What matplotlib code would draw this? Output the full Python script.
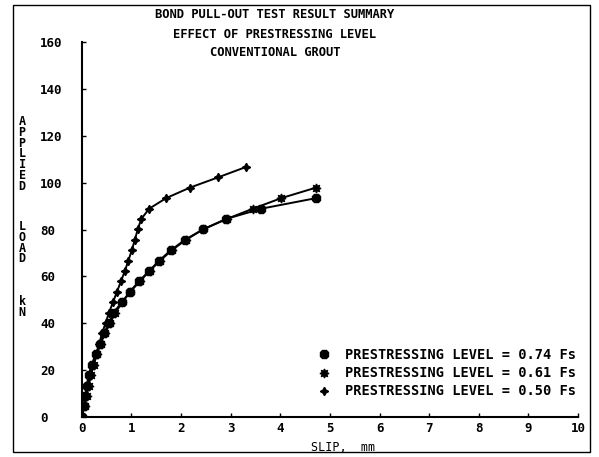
import numpy as np
import matplotlib
matplotlib.use('Agg')
import matplotlib.pyplot as plt
from matplotlib.patches import Rectangle

plt.rcParams['font.family'] = 'DejaVu Sans Mono'
plt.rcParams['font.weight'] = 'bold'

# load steps are 1 kip = 4.45 kN
load_074 = [0, 4.4, 8.9, 13.3, 17.8, 22.2, 26.7, 31.1, 35.6, 40.0, 44.5,
            48.9, 53.4, 57.8, 62.3, 66.7, 71.2, 75.6, 80.1, 84.5, 88.9, 93.4]
slip_074 = [0, 0.04, 0.07, 0.10, 0.14, 0.20, 0.28, 0.37, 0.45, 0.55, 0.64,
            0.81, 0.97, 1.15, 1.36, 1.56, 1.80, 2.08, 2.45, 2.91, 3.62, 4.72]

load_061 = [0, 4.4, 8.9, 13.3, 17.8, 22.2, 26.7, 31.1, 35.6, 40.0, 44.5,
            48.9, 53.4, 57.8, 62.3, 66.7, 71.2, 75.6, 80.1, 84.5, 88.9, 93.4, 97.9]
slip_061 = [0, 0.06, 0.10, 0.14, 0.19, 0.24, 0.31, 0.38, 0.47, 0.57, 0.68,
            0.82, 0.98, 1.17, 1.37, 1.58, 1.82, 2.10, 2.45, 2.92, 3.45, 4.02, 4.72]

load_050 = [0, 4.4, 8.9, 13.3, 17.8, 22.2, 26.7, 31.1, 35.6, 40.0, 44.5,
            48.9, 53.4, 57.8, 62.3, 66.7, 71.2, 75.6, 80.1, 84.5, 88.9, 93.4,
            97.9, 102.3, 106.8]
slip_050 = [0, 0.04, 0.08, 0.12, 0.17, 0.23, 0.29, 0.35, 0.41, 0.48, 0.55,
            0.63, 0.71, 0.79, 0.87, 0.94, 1.01, 1.07, 1.13, 1.20, 1.36, 1.70,
            2.18, 2.75, 3.32]

labels = ['PRESTRESSING LEVEL = 0.74 Fs',
          'PRESTRESSING LEVEL = 0.61 Fs',
          'PRESTRESSING LEVEL = 0.50 Fs']
xticks = [0, 1, 2, 3, 4, 5, 6, 7, 8, 9, 10]
yticks = [0, 20, 40, 60, 80, 100, 120, 140, 160]

fig = plt.figure(figsize=(5.99, 4.57), dpi=100)
ax = fig.add_axes([0.1364, 0.0882, 0.8286, 0.8192])

l3, = ax.plot(slip_050, load_050, color='black', lw=1.4, marker=(4, 1, 0), ms=6)
l2, = ax.plot(slip_061, load_061, color='black', lw=1.4, marker=(8, 1, 0), ms=6.5)
l1, = ax.plot(slip_074, load_074, color='black', lw=1.4, marker='8', ms=6)

ax.set_xlim(0, 10)
ax.set_ylim(0, 160)
ax.set_xticks(xticks)
ax.set_yticks(yticks)
ax.set_xticklabels([str(v) for v in xticks])
ax.set_yticklabels([str(v) for v in yticks])
ax.spines['top'].set_visible(False)
ax.spines['right'].set_visible(False)
ax.spines['left'].set_linewidth(1.5)
ax.spines['bottom'].set_linewidth(1.5)
ax.tick_params(axis='x', direction='in', length=3, width=1, labelsize=9, pad=4)
ax.tick_params(axis='y', direction='in', length=3, width=1, labelsize=9, pad=30)
for t in ax.get_yticklabels():
    t.set_horizontalalignment('left')
    t.set_verticalalignment('center_baseline')

ax.set_xlabel('SLIP,  mm', fontsize=8.5)
ax.xaxis.set_label_coords(0.527, -0.064)

leg = ax.legend([l1, l2, l3], labels, loc='upper left',
                bbox_to_anchor=(0.461, 0.201), frameon=False, fontsize=9.8,
                handlelength=1.0, handletextpad=1.0, labelspacing=0.3,
                borderpad=0)
for h in leg.get_lines():
    h.set_linestyle('none')

fig.text(0.459, 1 - 15 / 457, 'BOND PULL-OUT TEST RESULT SUMMARY', ha='center', va='center', fontsize=8.7)
fig.text(0.459, 1 - 35 / 457, 'EFFECT OF PRESTRESSING LEVEL', ha='center', va='center', fontsize=8.7)
fig.text(0.459, 1 - 53 / 457, 'CONVENTIONAL GROUT', ha='center', va='center', fontsize=8.7)

fig.text(0.037, 1 - 115 / 457, '\n'.join('APPLIED'), ha='center', va='top', fontsize=8.5, linespacing=0.78)
fig.text(0.037, 1 - 220 / 457, '\n'.join('LOAD'), ha='center', va='top', fontsize=8.5, linespacing=0.78)
fig.text(0.037, 1 - 295 / 457, '\n'.join('kN'), ha='center', va='top', fontsize=8.5, linespacing=0.78)

fig.patches.append(Rectangle((0.0217, 0.011), 0.963, 0.978, transform=fig.transFigure,
                             fill=False, edgecolor='black', lw=1.0))

fig.savefig('out.png', dpi=100)
